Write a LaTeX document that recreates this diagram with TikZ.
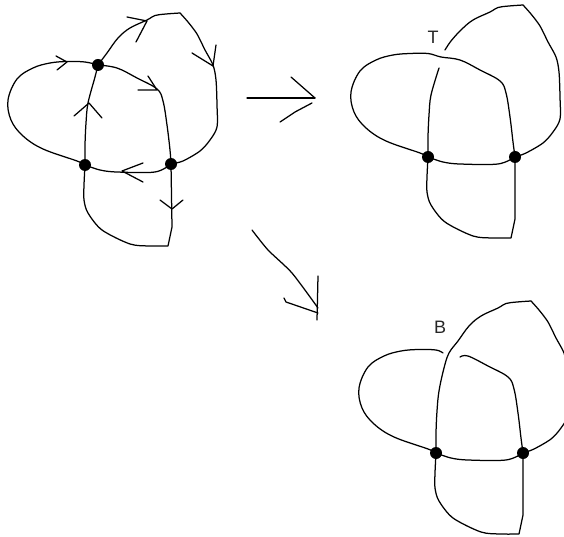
\documentclass[tikz,border=0pt]{standalone}
\usepackage{fontspec}
\setmainfont{Liberation Sans}
\tikzset{
  strand/.style={draw=black,line width=1.25pt,line join=round,line cap=round},
  vertexdot/.style={circle,fill=black,draw=none,inner sep=0pt,minimum width=12pt,minimum height=11pt},
  crossinglabel/.style={inner sep=0pt,font=\fontsize{18}{18}\selectfont,text=black!85}
}
% curve pieces, in the coordinates of the left figure
\newcommand{\leftarc}[1]{\draw[strand] plot[smooth,tension=.6] coordinates {#1 (67,61.5) (50,63) (33,68) (17,79) (8,100) (11,120) (23,136) (43,149) (77,161) (B)};}
\newcommand{\lobetail}{\draw[strand] plot[smooth,tension=.5] coordinates {(180,13) (188,22) (197,34) (205,50) (213,65) (216,80) (217,105) (217,127) (210,140) (200,151) (183,161) (C)};}
\newcommand{\lobearc}[1]{\draw[strand] plot[smooth,tension=.6] coordinates {#1 (118,38) (130,28) (147,20) (155,15.5) (166,14) (180,13)}; \lobetail}
\newcommand{\rightarc}[1]{\draw[strand] plot[smooth,tension=.6] coordinates {#1 (117,68) (137,78) (157,89) (163,101) (167,125) (170,150) (C)};}
\newcommand{\verticalarc}[1]{\draw[strand] plot[smooth,tension=.55] coordinates {#1 (88,103) (86,123) (85,145) (B)};}
\newcommand{\lowerparts}{%
  \draw[strand] plot[smooth,tension=.55] coordinates {(B) (100,170) (117,172) (155,172) (C)};
  \draw[strand] plot[smooth,tension=.5] coordinates {(B) (84,185) (84,200) (88,213) (102,230) (130,244) (150,246) (168,246)} -- (172,227) -- (C);
  \node[vertexdot] at (B) {};
  \node[vertexdot] at (C) {};
}
\begin{document}
\begin{tikzpicture}[x=1pt,y=-1pt]
\useasboundingbox (0,0) rectangle (564,537);
% left figure
\begin{scope}[name prefix=l-]
  \coordinate (A) at (98,65);
  \coordinate (B) at (85,165);
  \coordinate (C) at (171,164);
  \leftarc{(A) (85,62)}
  \lobearc{(A) (107,53)}
  \rightarc{(A)}
  \verticalarc{(A) (95,77)}
  \lowerparts
  \node[vertexdot] at (A) {};
  \draw[strand] (56,56) -- (67,62) -- (57,70);
  \draw[strand] (127,17) -- (147,21) -- (136,42);
  \draw[strand] (192,53) -- (213,66) -- (216,45);
  \draw[strand] (148,76) -- (157,90) -- (138,90);
  \draw[strand] (74,116) -- (89,103) -- (102,118);
  \draw[strand] (143,163) -- (122,171) -- (143,182);
  \draw[strand] (160,200) -- (172,209) -- (183,200);
\end{scope}
% upper right figure
\begin{scope}[shift={(343,-8)},name prefix=t-]
  \coordinate (A) at (98,65);
  \coordinate (B) at (85,165);
  \coordinate (C) at (172,165);
  \coordinate (lobeend) at (102,58);
  \coordinate (vertend) at (96,76);
  \leftarc{(C) (170,150) (167,125) (163,101) (157,89) (137,78) (117,68) (A) (85,61.5)}
  \lobearc{(lobeend) (108,49)}
  \verticalarc{(vertend)}
  \lowerparts
  \node[crossinglabel] (tlabel) at (90,45) {T};
\end{scope}
% lower right figure
\begin{scope}[shift={(351,288)},name prefix=b-]
  \coordinate (A) at (98,65);
  \coordinate (B) at (85,165);
  \coordinate (C) at (172,165);
  \coordinate (leftend) at (92,65);
  \coordinate (rightend) at (109,69);
  \leftarc{(leftend) (85,62)}
  \rightarc{(rightend)}
  \lobearc{(B) (85,145) (86,123) (88,103) (93,80) (A) (107,53)}
  \lowerparts
  \node[crossinglabel] (blabel) at (89,39) {B};
\end{scope}
% arrows between the figures
\coordinate (ra0) at (247,98);
\coordinate (ra1) at (315,98);
\draw[strand] (ra0) -- (ra1);
\draw[strand] (291,77) -- (ra1);
\draw[strand] (280,122) -- (295,112) -- (312,103);
\coordinate (da0) at (252,230);
\coordinate (da1) at (318,308);
\draw[strand] plot[smooth,tension=.4] coordinates {(da0) (268,250) (292,273) (da1)};
\draw[strand] (318,276) -- (317,320);
\draw[strand] (284,298) -- (286,302) -- (318,313);
\end{tikzpicture}
\end{document}
